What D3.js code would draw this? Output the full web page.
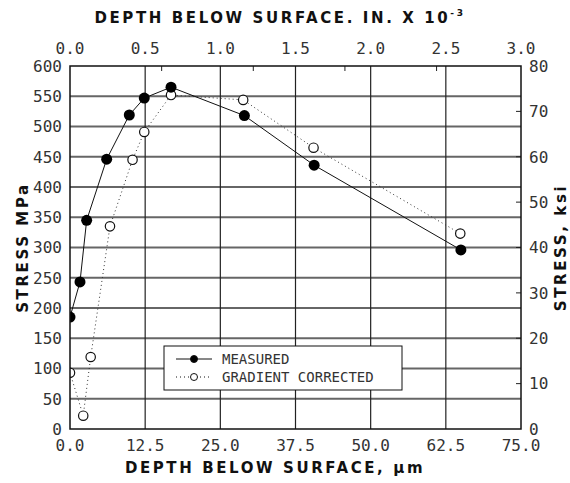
<!DOCTYPE html>
<html>
<head>
<meta charset="utf-8">
<script src="https://cdn.jsdelivr.net/npm/d3@7"></script>
<style>
	body { margin: 0; background: #fff; }
	text { font-family: "DejaVu Sans Mono", monospace; }
	.tick { font-size: 16px; fill: #333; }
	.title { font-family: "DejaVu Sans", sans-serif; font-weight: bold; font-size: 15px; letter-spacing: 2.6px; fill: #111; }
</style>
</head>
<body>
<svg id="chart" width="570" height="483"></svg>
<script>
// depth in um, stress in MPa
const measuredDepth = [0, 1.66, 2.77, 6.1, 9.86, 12.35, 16.8, 29.0, 40.6, 65.0]
const measuredStress = [185, 243, 345, 446, 519, 547, 565, 518, 436, 296]
const correctedDepth = [0, 2.2, 3.44, 6.65, 10.4, 12.35, 16.8, 28.8, 40.5, 64.9]
const correctedStress = [93, 22, 119, 335, 445, 491, 552, 544, 465, 323]

const bottomTicks = [0, 12.5, 25, 37.5, 50, 62.5, 75]
const topTicks = [0, 0.5, 1.0, 1.5, 2.0, 2.5, 3.0]
const topMinor = [0.6, 1.2, 1.8, 2.4]   // in x 10^-3 inch, true scale
const leftTicks = d3.range(0, 601, 50)
const rightTicks = d3.range(0, 81, 10)
const legendLabels = ["MEASURED", "GRADIENT CORRECTED"]

const margin = { top: 66, right: 49, bottom: 54, left: 70 }
const width = 570, height = 483
const innerW = width - margin.left - margin.right
const innerH = height - margin.top - margin.bottom

const svg = d3.select("#chart")

const x = d3.scaleLinear().domain([0, 75]).range([0, innerW])
const xTop = d3.scaleLinear().domain([0, 3]).range([0, innerW])
const y = d3.scaleLinear().domain([0, 600]).range([innerH, 0])
const yRight = d3.scaleLinear().domain([0, 80]).range([innerH, 0])

svg.append("defs").append("clipPath")
	.attr("id", "plotClip")
	.append("rect")
	.attr("width", innerW)
	.attr("height", innerH)

const g = svg.append("g")
	.attr("transform", `translate(${margin.left},${margin.top})`)

// grid
g.append("g").selectAll("line")
	.data(leftTicks.filter(d => d > 0 && d < 600))
	.join("line")
	.attr("x1", 0).attr("x2", innerW)
	.attr("y1", d => y(d)).attr("y2", d => y(d))
	.attr("stroke", "#666").attr("stroke-width", 2)

g.append("g").selectAll("line")
	.data(bottomTicks.filter(d => d > 0 && d < 75))
	.join("line")
	.attr("y1", 0).attr("y2", innerH)
	.attr("x1", d => x(d)).attr("x2", d => x(d))
	.attr("stroke", "#222").attr("stroke-width", 1.2)

// top minor ticks (inches -> um)
g.append("g").selectAll("line")
	.data(topMinor)
	.join("line")
	.attr("x1", d => x(d * 25.4)).attr("x2", d => x(d * 25.4))
	.attr("y1", 0).attr("y2", 5)
	.attr("stroke", "#222")

// right ticks
g.append("g").selectAll("line")
	.data(rightTicks.filter(d => d > 0 && d < 80))
	.join("line")
	.attr("x1", innerW - 5).attr("x2", innerW)
	.attr("y1", d => yRight(d)).attr("y2", d => yRight(d))
	.attr("stroke", "#222")

// series
const measured = measuredDepth.map((d, i) => [d, measuredStress[i]])
const corrected = correctedDepth.map((d, i) => [d, correctedStress[i]])

const line = d3.line().x(d => x(d[0])).y(d => y(d[1]))

const plot = g.append("g").attr("clip-path", "url(#plotClip)")

plot.append("path")
	.datum(corrected)
	.attr("d", line)
	.attr("fill", "none")
	.attr("stroke", "#333")
	.attr("stroke-width", 1)
	.attr("stroke-dasharray", "1,3")

plot.append("path")
	.datum(measured)
	.attr("d", line)
	.attr("fill", "none")
	.attr("stroke", "#111")
	.attr("stroke-width", 1)

plot.append("g").selectAll("circle")
	.data(corrected)
	.join("circle")
	.attr("cx", d => x(d[0])).attr("cy", d => y(d[1]))
	.attr("r", 4.7)
	.attr("fill", "#fff").attr("stroke", "#111").attr("stroke-width", 1.2)

plot.append("g").selectAll("circle")
	.data(measured)
	.join("circle")
	.attr("cx", d => x(d[0])).attr("cy", d => y(d[1]))
	.attr("r", 5.5)
	.attr("fill", "#000")

// frame
g.append("rect")
	.attr("width", innerW).attr("height", innerH)
	.attr("fill", "none").attr("stroke", "#111").attr("stroke-width", 1.5)

// tick labels
g.append("g").selectAll("text")
	.data(leftTicks)
	.join("text")
	.attr("class", "tick")
	.attr("x", -8).attr("y", d => y(d))
	.attr("dy", "0.36em")
	.attr("text-anchor", "end")
	.text(d => d)

g.append("g").selectAll("text")
	.data(rightTicks)
	.join("text")
	.attr("class", "tick")
	.attr("x", innerW + 8).attr("y", d => yRight(d))
	.attr("dy", "0.36em")
	.text(d => d)

g.append("g").selectAll("text")
	.data(bottomTicks)
	.join("text")
	.attr("class", "tick")
	.attr("x", d => x(d)).attr("y", innerH + 22)
	.attr("text-anchor", "middle")
	.text(d => d.toFixed(1))

g.append("g").selectAll("text")
	.data(topTicks)
	.join("text")
	.attr("class", "tick")
	.attr("x", d => xTop(d)).attr("y", -12)
	.attr("text-anchor", "middle")
	.text(d => d.toFixed(1))

// axis titles
const topTitle = svg.append("text")
	.attr("class", "title")
	.attr("x", 280).attr("y", 23)
	.attr("text-anchor", "middle")
topTitle.append("tspan").text("DEPTH BELOW SURFACE. IN. X 10")
topTitle.append("tspan")
	.attr("dy", -7).style("font-size", "9px")
	.text("-3")

svg.append("text")
	.attr("class", "title")
	.attr("x", 275).attr("y", 473)
	.attr("text-anchor", "middle")
	.text("DEPTH BELOW SURFACE, μm")

svg.append("text")
	.attr("class", "title")
	.attr("transform", `translate(28,${margin.top + innerH / 2}) rotate(-90)`)
	.attr("text-anchor", "middle")
	.text("STRESS MPa")

svg.append("text")
	.attr("class", "title")
	.attr("transform", `translate(566,${margin.top + innerH / 2}) rotate(-90)`)
	.attr("text-anchor", "middle")
	.text("STRESS, ksi")

// legend
const legend = g.append("g")
	.attr("transform", `translate(${164 - margin.left},${346 - margin.top})`)
legend.append("rect")
	.attr("width", 238).attr("height", 44)
	.attr("fill", "#fff").attr("stroke", "#111")

const rows = legend.selectAll("g.row")
	.data(legendLabels)
	.join("g")
	.attr("class", "row")
	.attr("transform", (d, i) => `translate(0,${13 + i * 18})`)

rows.append("line")
	.attr("x1", 12).attr("x2", 48)
	.attr("stroke", "#111")
	.attr("stroke-dasharray", (d, i) => i ? "1,3" : null)
rows.append("circle")
	.attr("cx", 30).attr("r", 3.5)
	.attr("fill", (d, i) => i ? "#fff" : "#000")
	.attr("stroke", "#111")
rows.append("text")
	.attr("class", "tick")
	.attr("x", 58).attr("dy", "0.36em")
	.style("font-size", "14px")
	.text(d => d)
</script>
</body>
</html>
